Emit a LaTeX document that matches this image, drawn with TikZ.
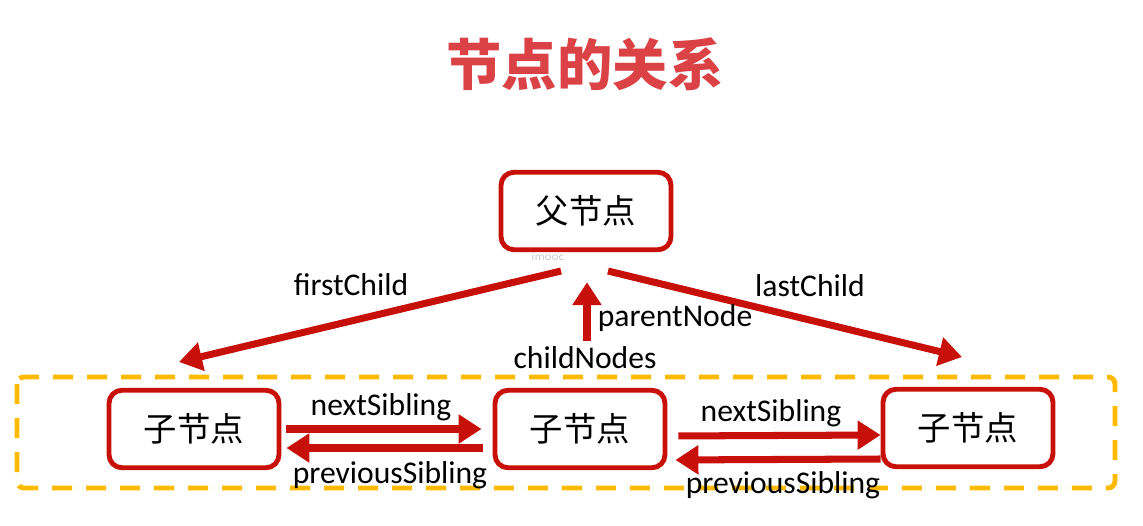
\documentclass[tikz,border=0pt]{standalone}
\usepackage{fontspec}
\setmainfont{Carlito}
\newfontfamily\cjk{Noto Sans CJK SC}
\usetikzlibrary{arrows.meta}
\definecolor{boxred}{RGB}{200,16,10}
\definecolor{titlered}{RGB}{218,66,70}
\definecolor{dashgold}{RGB}{255,186,0}
\begin{document}
\begin{tikzpicture}[x=0.02cm, y=-0.02cm,
    box/.style = {draw=boxred, line width=2.8pt, rounded corners=0.26cm, minimum width=3.4cm, minimum height=1.55cm, font=\cjk\fontsize{19}{22}\selectfont},
    lbl/.style = {font=\fontsize{18}{20}\selectfont, inner sep=0pt},
    link/.style = {boxred, line width=4pt, -{Triangle[length=0.46cm, width=0.56cm]}}]
    \useasboundingbox (0,0) rectangle (1143,525);
    % nodi e collegamenti

    \node[font=\cjk\bfseries\fontsize{31.5}{34}\selectfont, text=titlered] (title) at (585,64) {节点的关系};
    \draw[dashgold, line width=2.8pt, dash pattern=on 0.4cm off 0.28cm, rounded corners=4pt] (17,377) rectangle (1115,488);

    \node[box] (parent) at (586,211) {父节点};
    \node[box] (childA) at (194,429) {子节点};
    \node[box] (childB) at (580,429) {子节点};
    \node[box] (childC) at (968,428) {子节点};
    \node[font=\sffamily\fontsize{7}{8}\selectfont, text=black!22] (mark) at (548,256) {imooc};

    \coordinate (fcStart) at (561,271);
    \coordinate (fcTip) at (179,362);
    \coordinate (lcStart) at (608,271);
    \coordinate (lcTip) at (962,357);
    \draw[link] (fcStart) -- (fcTip);
    \draw[link] (lcStart) -- (lcTip);

    \node[lbl] (firstChild) at (351,285) {firstChild};
    \node[lbl] (lastChild) at (810,286) {lastChild};
    \node[lbl] (childNodes) at (585,358) {childNodes};
    \node[lbl] (parentNode) at (675,318) {parentNode};
    \draw[link, shorten >=0.6cm] ([xshift=0.04cm, yshift=0.12cm]childNodes.north) -- ([xshift=0.04cm]childNodes.north |- parent.south);

    \draw[link, shorten <=0.1cm, shorten >=0.22cm] (childA.east) -- (childB.west);
    \draw[link, shorten <=0.2cm, shorten >=0.1cm] ([yshift=-0.38cm]childB.west) -- ([yshift=-0.38cm]childA.east);
    \draw[link, shorten <=0.22cm] ([yshift=-0.14cm]childB.east) -- ([yshift=-0.14cm]childC.west);
    \draw[link, shorten >=0.16cm] ([yshift=-0.62cm]childC.west) -- ([yshift=-0.62cm]childB.east);

    \node[lbl] (next1) at (381,407) {nextSibling};
    \node[lbl] (prev1) at (390,475) {previousSibling};
    \node[lbl] (next2) at (771,413) {nextSibling};
    \node[lbl] (prev2) at (783,485) {previousSibling};

\end{tikzpicture}
\end{document}
